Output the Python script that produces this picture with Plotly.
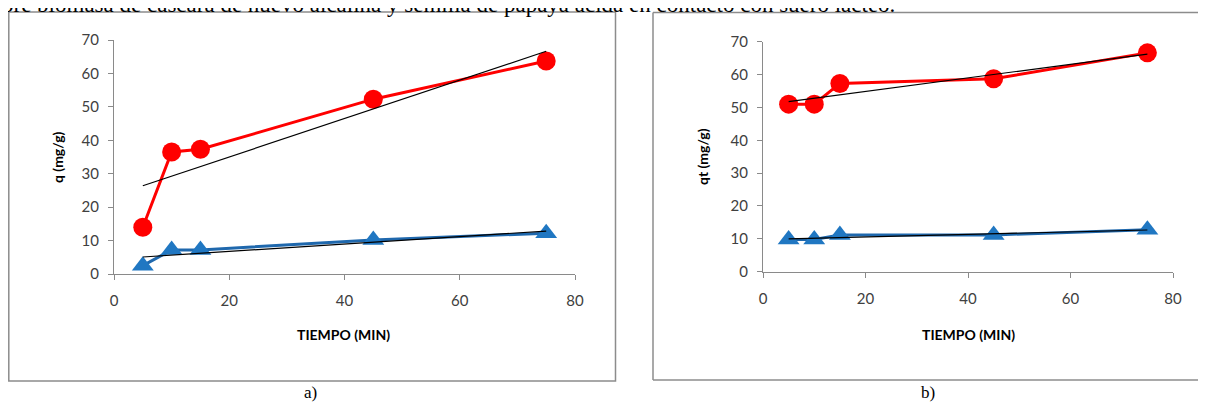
import numpy as np
import plotly.graph_objects as go

W, H = 1206, 402
OFF = 8  # page body margin offset of the plot div

# ---- data ----
tiempo = [5, 10, 15, 45, 75]
q_red_a = [14.0, 36.5, 37.3, 52.3, 63.7]
q_blue_a = [2.5, 7.2, 7.2, 10.2, 12.2]
qt_red_b = [51.0, 51.0, 57.3, 58.7, 66.6]
qt_blue_b = [9.8, 9.8, 11.2, 11.2, 12.8]

x_ticks = [0, 20, 40, 60, 80]
y_ticks = [0, 10, 20, 30, 40, 50, 60, 70]

caption = "bre biomasa de cáscara de huevo alcalina y semilla de papaya ácida en contacto con suero lácteo."
panel_labels = ["a)", "b)"]
y_titles = ["q (mg/g)", "qt (mg/g)"]
x_title = "TIEMPO (MIN)"

RED = "#FF0000"
BLUE_LINE = "#1F68AD"
BLUE_MK = "#2077C2"
TICK_FONT = dict(family="Lato", size=15, color="#404040")


def px(x):
    return (x - OFF) / W


def py(y):
    return 1 - (y - OFF) / H


fig = go.Figure()


def add_series(xaxis, yaxis, ys, color, mcolor, symbol, size):
    fig.add_trace(go.Scatter(
        x=tiempo, y=ys, mode="lines+markers", xaxis=xaxis, yaxis=yaxis,
        line=dict(color=color, width=3),
        marker=dict(color=mcolor, size=size, symbol=symbol, line=dict(width=0)),
        showlegend=False, hoverinfo="skip"))


def add_trend(xaxis, yaxis, ys):
    m, b = np.polyfit(tiempo, ys, 1)
    xs = [tiempo[0], tiempo[-1]]
    fig.add_trace(go.Scatter(
        x=xs, y=[m * v + b for v in xs], mode="lines", xaxis=xaxis, yaxis=yaxis,
        line=dict(color="black", width=1.2), showlegend=False, hoverinfo="skip"))


# panel a
add_series("x", "y", q_red_a, RED, RED, "circle", 19)
add_series("x", "y", q_blue_a, BLUE_LINE, BLUE_MK, "triangle-up", 19)
add_trend("x", "y", q_red_a)
add_trend("x", "y", q_blue_a)
# panel b
add_series("x2", "y2", qt_red_b, RED, RED, "circle", 19)
add_series("x2", "y2", qt_blue_b, BLUE_LINE, BLUE_MK, "triangle-up", 19)
add_trend("x2", "y2", qt_red_b)
add_trend("x2", "y2", qt_blue_b)

axis_common = dict(showgrid=False, zeroline=False, showline=True, linecolor="#8A8A8A",
                   linewidth=1, ticks="outside", ticklen=5, tickcolor="#8A8A8A",
                   tickfont=TICK_FONT, fixedrange=True, automargin=False)

fig.update_layout(
    width=W, height=H, margin=dict(l=0, r=0, t=0, b=0, autoexpand=False),
    paper_bgcolor="white", plot_bgcolor="white",
    xaxis=dict(domain=[px(114), px(575)], range=[0, 80], tickvals=x_ticks,
               anchor="y", ticklabelstandoff=8, **axis_common),
    yaxis=dict(domain=[py(274), py(40)], range=[0, 70], tickvals=y_ticks,
               anchor="x", ticklabelstandoff=6, **axis_common),
    xaxis2=dict(domain=[px(763), px(1173)], range=[0, 80], tickvals=x_ticks,
                anchor="y2", ticklabelstandoff=8, **axis_common),
    yaxis2=dict(domain=[py(271.7), py(41.7)], range=[0, 70], tickvals=y_ticks,
                anchor="x2", ticklabelstandoff=6, **axis_common),
)

# panel borders (panel b runs off the right edge)
fig.add_shape(type="rect", xref="paper", yref="paper",
              x0=px(8.8), x1=px(615.5), y0=py(381), y1=py(12),
              line=dict(color="#8C8C8C", width=1.5), layer="below")
fig.add_shape(type="line", xref="paper", yref="paper",
              x0=px(653), x1=px(1300), y0=py(12.5), y1=py(12.5),
              line=dict(color="#8C8C8C", width=1.5), layer="below")
fig.add_shape(type="line", xref="paper", yref="paper",
              x0=px(653), x1=px(1300), y0=py(380), y1=py(380),
              line=dict(color="#8C8C8C", width=1.5), layer="below")
fig.add_shape(type="line", xref="paper", yref="paper",
              x0=px(653), x1=px(653), y0=py(380), y1=py(12.5),
              line=dict(color="#8C8C8C", width=1.5), layer="below")

ann = []
# caption, cut off by the top edge as in the reference
ann.append(dict(text=caption, x=px(0), y=py(19), xref="paper", yref="paper",
                xanchor="left", yanchor="bottom", showarrow=False,
                font=dict(family="Liberation Serif", size=23, color="black")))
# y titles
for t, xc, yc in zip(y_titles, [58, 703], [157, 157]):
    ann.append(dict(text="<b>%s</b>" % t, x=px(xc), y=py(yc), xref="paper", yref="paper",
                    xanchor="center", yanchor="middle", showarrow=False, textangle=-90,
                    font=dict(family="Lato", size=14, color="black")))
# x titles
for xc in [343, 968]:
    ann.append(dict(text="<b>%s</b>" % x_title, x=px(xc), y=py(334), xref="paper", yref="paper",
                    xanchor="center", yanchor="middle", showarrow=False,
                    font=dict(family="Lato", size=14, color="black")))
# panel labels
for t, xc in zip(panel_labels, [310, 928]):
    ann.append(dict(text=t, x=px(xc), y=py(392), xref="paper", yref="paper",
                    xanchor="center", yanchor="middle", showarrow=False,
                    font=dict(family="Liberation Serif", size=17, color="black")))
fig.update_layout(annotations=ann)

fig.write_html("out.html")
